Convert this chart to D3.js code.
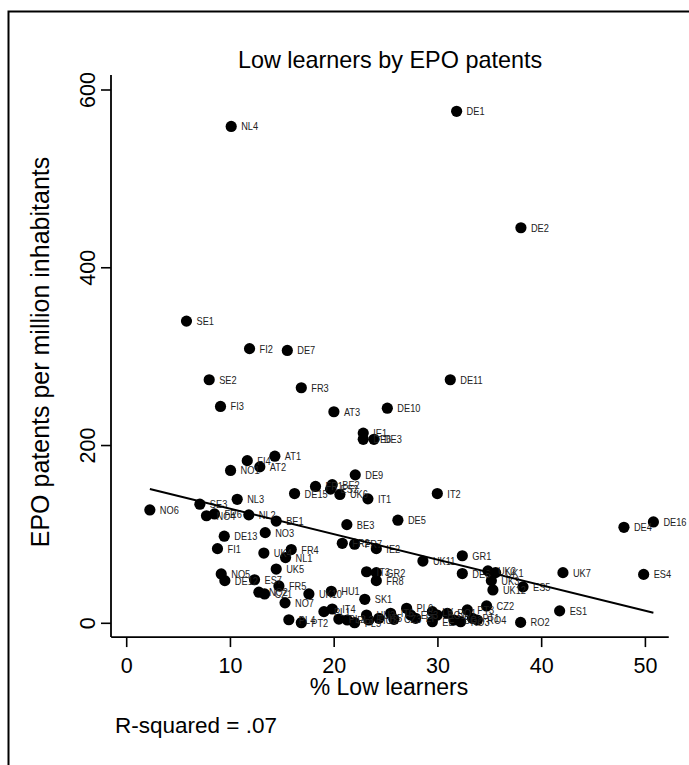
<!DOCTYPE html>
<html>
<head>
<meta charset="utf-8">
<script src="https://cdn.jsdelivr.net/npm/d3@7"></script>
<style>
  html, body { margin: 0; padding: 0; background: #fff; }
  svg { display: block; }
  text { font-family: "Liberation Sans", Arial, Helvetica, sans-serif; fill: #000; }
</style>
</head>
<body>
<svg id="chart" width="689" height="765"></svg>
<script>
// Regions: share of low learners (%) and EPO patents per million inhabitants
const regions = [
  "DE1","DE2","NL4","SE1","FI2","DE7","SE2","FR3","DE11","FI3",
  "AT3","DE10","IE1","DE6","DE3","AT1","FI4","AT2","NO1","DE9",
  "FR1","BE2","ES2","DE15","UK6","IT1","IT2","NO6","SE3","NO4",
  "FR6","NL3","NL2","BE1","NO3","DE13","FI1","UK4","FR4","NL1",
  "UK5","NO5","DE12","ES7","FR5","NO2","CZ1","UK10","HU1","NO7",
  "PL4","PT2","BE3","DE5","FR2","FR7","IE2","UK11","GR1","DE8",
  "IT3","GR2","FR8","SK1","UK2","UK1","UK3","UK12","ES5","UK7",
  "ES4","ES1","RO2","CZ2","DE4","DE16",
  "PL1","IT4","PL2","PL3","PL5","HU2","HU3","IT5","IT6","CZ3",
  "PL6","ES3","LT","LV","EE","BG1","RO1","BG2","RO3","PT3",
  "PT1","RO4"
];
const lowLearners = [
  31.85,38.05,10.12,5.81,11.89,15.53,8.0,16.88,31.24,9.09,
  20.02,25.17,22.85,22.85,23.88,14.33,11.67,12.88,10.06,22.08,
  18.25,19.86,19.7,16.23,20.6,23.3,29.99,2.28,7.10,7.74,
  8.51,10.70,11.82,14.46,13.40,9.45,8.80,13.27,15.91,15.36,
  14.46,9.16,9.51,12.37,14.72,12.79,13.34,17.61,19.77,15.31,
  15.68,16.88,21.27,26.19,20.83,22.02,24.11,28.6,32.4,32.4,
  23.17,24.11,24.11,23.0,34.87,35.61,35.2,35.35,38.25,42.10,
  49.88,41.78,38.02,34.74,47.98,50.82,
  19.06,19.86,20.5,21.31,22.02,23.17,23.39,24.36,25.49,25.81,
  27.03,27.42,27.9,29.51,29.51,29.99,30.95,31.59,32.24,32.88,
  33.37,33.85
];
const patents = [
  576,445,559,340,309,307,274,265,274,244,
  238,242,214,207,207,188,183,176,172,167,
  154,156,151,146,145,140,146,127.5,134,121,
  123,139.5,122,115,102,98,84,79,83,74,
  61,55.5,48,49,42,35,33,33,36,23,
  4,0.7,111,116,90,89,84,70,76,56,
  58,57,48,27,59,57,48,37.5,41,57,
  55,14,1,19.5,108,114,
  13.1,16.1,4.8,3.7,0.7,9.3,3.7,5.6,11.3,4.5,
  16.9,9.3,5.6,13.1,1.8,9.3,11.3,3.7,1.8,15.0,
  5.6,3.7
];
// fitted values of the linear fit at the lowest and highest share
const fitLowLearners = [2.28, 50.82];
const fitPatents = [151.1, 11.9];

const xTicks = [0, 10, 20, 30, 40, 50];
const yTicks = [0, 200, 400, 600];
const xAxisExtent = [-1.45, 52.3];
const yAxisExtent = [-15.5, 617];
const titleText = "Low learners by EPO patents";
const xTitle = "% Low learners";
const yTitle = "EPO patents per million inhabitants";
const noteText = "R-squared = .07";

const svg = d3.select("#chart");
const x = d3.scaleLinear().domain([0, 50]).range([126.2, 644.9]);
const y = d3.scaleLinear().domain([0, 600]).range([623.3, 90]);

// outer graph region border
svg.append("rect")
  .attr("x", 8.5).attr("y", 11.5)
  .attr("width", 720).attr("height", 800)
  .attr("fill", "none").attr("stroke", "#000").attr("stroke-width", 2);

const points = regions.map((r, i) => ({ r, lx: lowLearners[i], p: patents[i] }));

// axes
const yAxis = d3.axisLeft(y).tickValues(yTicks).tickSize(10).tickSizeOuter(0).tickFormat(d3.format("d"));
const gy = svg.append("g").attr("transform", "translate(111,0)").call(yAxis);
gy.select(".domain").remove();
gy.selectAll(".tick").attr("transform", null);
gy.selectAll(".tick line").attr("stroke-width", 1.6)
  .attr("y1", d => y(d)).attr("y2", d => y(d));
gy.selectAll(".tick text")
  .attr("x", null).attr("dy", null).attr("y", 0)
  .attr("transform", d => `translate(-16,${y(d)}) rotate(-90)`)
  .attr("text-anchor", "middle")
  .style("font-size", "21.5px")
  .style("font-family", "'Liberation Sans', Arial, sans-serif");

svg.append("line")
  .attr("x1", 111).attr("x2", 111)
  .attr("y1", y(yAxisExtent[1])).attr("y2", y(yAxisExtent[0]))
  .attr("stroke", "#000").attr("stroke-width", 1.8);

const xAxis = d3.axisBottom(x).tickValues(xTicks).tickSize(10).tickSizeOuter(0).tickFormat(d3.format("d"));
const gx = svg.append("g").attr("transform", `translate(0,${y(yAxisExtent[0])})`).call(xAxis);
gx.select(".domain").remove();
gx.selectAll(".tick line").attr("stroke-width", 1.6);
gx.selectAll(".tick text")
  .attr("dy", null).attr("y", 36)
  .style("font-size", "21.5px")
  .style("font-family", "'Liberation Sans', Arial, sans-serif");

svg.append("line")
  .attr("x1", x(xAxisExtent[0])).attr("x2", x(xAxisExtent[1]))
  .attr("y1", y(yAxisExtent[0])).attr("y2", y(yAxisExtent[0]))
  .attr("stroke", "#000").attr("stroke-width", 1.8);

// markers
svg.append("g").selectAll("circle")
  .data(points).join("circle")
  .attr("cx", d => x(d.lx)).attr("cy", d => y(d.p))
  .attr("r", 5.6).attr("fill", "#000");

// marker labels
svg.append("g").selectAll("text")
  .data(points).join("text")
  .attr("transform", d => `translate(${x(d.lx) + 10},${y(d.p) + 4}) scale(0.88,1)`)
  .style("font-size", "10.5px")
  .style("fill", "#222")
  .text(d => d.r);

// fitted values
svg.append("line")
  .attr("x1", x(fitLowLearners[0])).attr("y1", y(fitPatents[0]))
  .attr("x2", x(fitLowLearners[1])).attr("y2", y(fitPatents[1]))
  .attr("stroke", "#000").attr("stroke-width", 2);

// titles
svg.append("text").attr("x", 390).attr("y", 68).attr("text-anchor", "middle")
  .style("font-size", "23.4px").text(titleText);
svg.append("text").attr("x", 389).attr("y", 695).attr("text-anchor", "middle")
  .style("font-size", "23px").text(xTitle);
svg.append("text").attr("transform", "translate(49,352) rotate(-90)").attr("text-anchor", "middle")
  .style("font-size", "25px").text(yTitle);
svg.append("text").attr("x", 115).attr("y", 733)
  .style("font-size", "22.5px").text(noteText);
</script>
</body>
</html>
